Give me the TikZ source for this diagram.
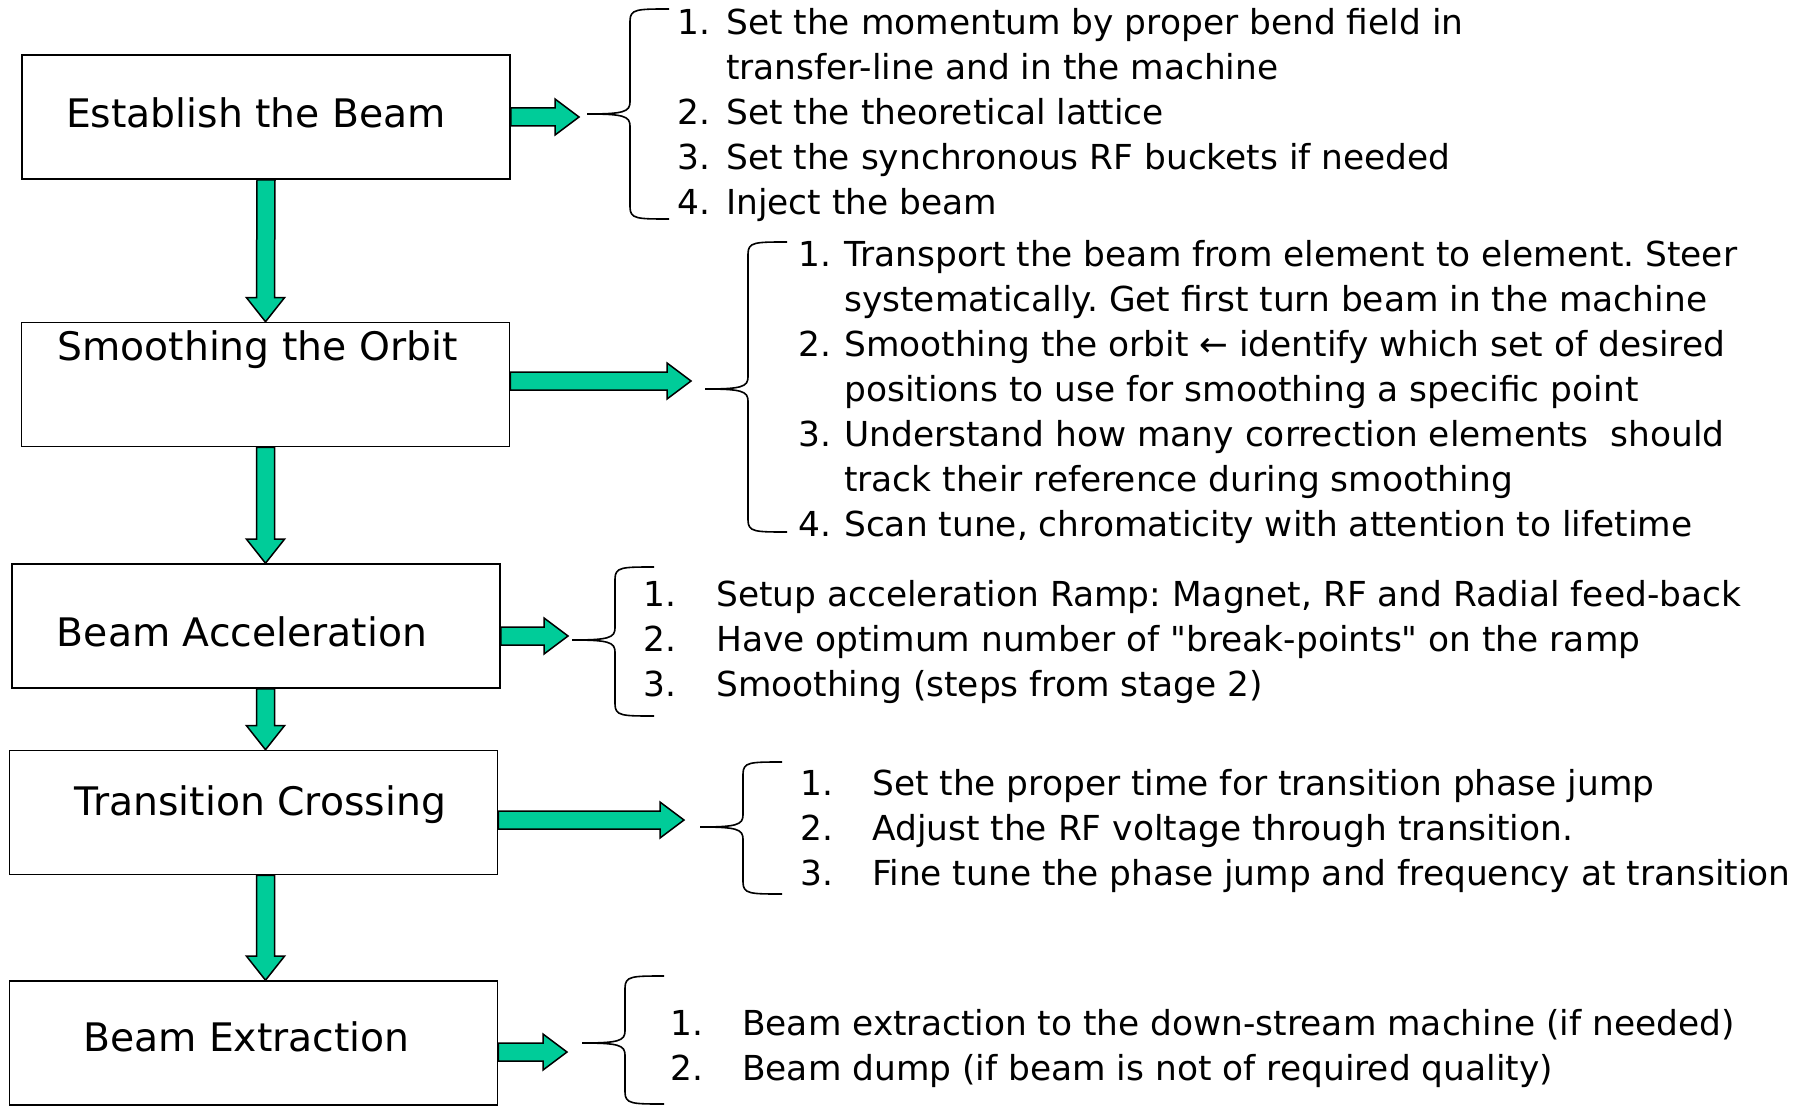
\documentclass[tikz,border=0pt]{standalone}
\usepackage{fontspec}
\setmainfont{DejaVu Sans}
\usetikzlibrary{calc}
\definecolor{arrowgreen}{HTML}{00CC99}
\frenchspacing

\newcommand{\harr}[2]{%
  \draw[fatarr] ($(#1)+(0,-9)$) -- ($(#2)+(-24,-9)$) -- ($(#2)+(-24,-18)$) -- (#2)
    -- ($(#2)+(-24,18)$) -- ($(#2)+(-24,9)$) -- ($(#1)+(0,9)$) -- cycle;}
\newcommand{\varr}[2]{%
  \draw[fatarr] ($(#1)+(-9,0)$) -- ($(#2)+(-9,-24)$) -- ($(#2)+(-19,-24)$) -- (#2)
    -- ($(#2)+(19,-24)$) -- ($(#2)+(9,-24)$) -- ($(#1)+(9,0)$) -- cycle;}
\newcommand{\listbrace}[4]{%
  \draw[brc] (#1+82,#3) .. controls (#1+50,#3) and (#1+43,#3) .. (#1+43,#3+12)
    -- (#1+43,#2-12) .. controls (#1+43,#2-2) and (#1+36,#2) .. (#1,#2)
    .. controls (#1+36,#2) and (#1+43,#2+2) .. (#1+43,#2+12)
    -- (#1+43,#4-12) .. controls (#1+43,#4) and (#1+50,#4) .. (#1+82,#4);}

\begin{document}
\begin{tikzpicture}[x=1pt, y=-1pt,
    stage/.style={draw, line width=1.6pt, minimum width=488pt, minimum height=124pt, inner sep=0pt},
    stagetext/.style={font=\fontsize{39.3}{47}\selectfont, inner sep=0pt, text height=29pt, text depth=8pt},
    steps/.style={font=\fontsize{34.4}{45}\selectfont, inner sep=0pt, anchor=base west},
    fatarr/.style={draw=black, line width=1.5pt, fill=arrowgreen, line join=miter},
    brc/.style={line width=1.6pt}]
    \useasboundingbox (0,0) rectangle (1806,1107);

    \node[stage] (b1) at (266,117) {};
    \node[stage] (b2) at (265.5,384.5) {};
    \node[stage] (b3) at (256,626) {};
    \node[stage] (b4) at (253.5,812.5) {};
    \node[stage] (b5) at (253.5,1043) {};

    \node[stagetext] (l1) at ([xshift=-10pt]b1.center) {Establish the Beam};
    \node[stagetext] (l2) at ([xshift=-8pt, yshift=35pt]b2.center) {Smoothing the Orbit};
    \node[stagetext] (l3) at ([xshift=-14pt, yshift=-10pt]b3.center) {Beam Acceleration};
    \node[stagetext] (l4) at ([xshift=7pt, yshift=8pt]b4.center) {Transition Crossing};
    \node[stagetext] (l5) at ([xshift=-7pt, yshift=2pt]b5.center) {Beam Extraction};

    \varr{b1.south}{b2.north}
    \varr{b2.south}{b2.south |- b3.north}
    \varr{b3.south -| b2.south}{b2.south |- b4.north}
    \varr{b4.south -| b2.south}{b2.south |- b5.north}

    \coordinate (e1) at (579,117);
    \coordinate (e2) at (691,381);
    \coordinate (e3) at (568,636);
    \coordinate (e4) at (684,820);
    \coordinate (e5) at (567,1052);
    \harr{b1.east |- e1}{e1}
    \harr{b2.east |- e2}{e2}
    \harr{b3.east |- e3}{e3}
    \harr{b4.east |- e4}{e4}
    \harr{b5.east |- e5}{e5}

    \listbrace{587}{114}{9}{219}
    \listbrace{705}{389}{242}{532}
    \listbrace{572}{640}{567}{716}
    \listbrace{700}{827}{762}{894}
    \listbrace{582}{1043}{976}{1104}

    \node[steps] (s1) at (677,35) {\begin{tabular}[t]{@{}p{49pt}@{}l@{}}
        1. & Set the momentum by proper bend field in\\
           & transfer-line and in the machine\\
        2. & Set the theoretical lattice\\
        3. & Set the synchronous RF buckets if needed\\
        4. & Inject the beam
      \end{tabular}};
    \node[steps] (s2) at (798,266) {\begin{tabular}[t]{@{}p{46pt}@{}l@{}}
        1. & Transport the beam from element to element. Steer\\
           & systematically. Get first turn beam in the machine\\
        2. & Smoothing the orbit ← identify which set of desired\\
           & positions to use for smoothing a specific point\\
        3. & Understand how many correction elements \ should\\
           & track their reference during smoothing\\
        4. & Scan tune, chromaticity with attention to lifetime
      \end{tabular}};
    \node[steps] (s3) at (643,606) {\begin{tabular}[t]{@{}p{73pt}@{}l@{}}
        1. & Setup acceleration Ramp: Magnet, RF and Radial feed-back\\
        2. & Have optimum number of \textquotedbl break-points\textquotedbl{} on the ramp\\
        3. & Smoothing (steps from stage 2)
      \end{tabular}};
    \node[steps] (s4) at (800,795) {\begin{tabular}[t]{@{}p{72pt}@{}l@{}}
        1. & Set the proper time for transition phase jump\\
        2. & Adjust the RF voltage through transition.\\
        3. & Fine tune the phase jump and frequency at transition
      \end{tabular}};
    \node[steps] (s5) at (670,1035) {\begin{tabular}[t]{@{}p{72pt}@{}l@{}}
        1. & Beam extraction to the down-stream machine (if needed)\\
        2. & Beam dump (if beam is not of required quality)
      \end{tabular}};
\end{tikzpicture}
\end{document}
